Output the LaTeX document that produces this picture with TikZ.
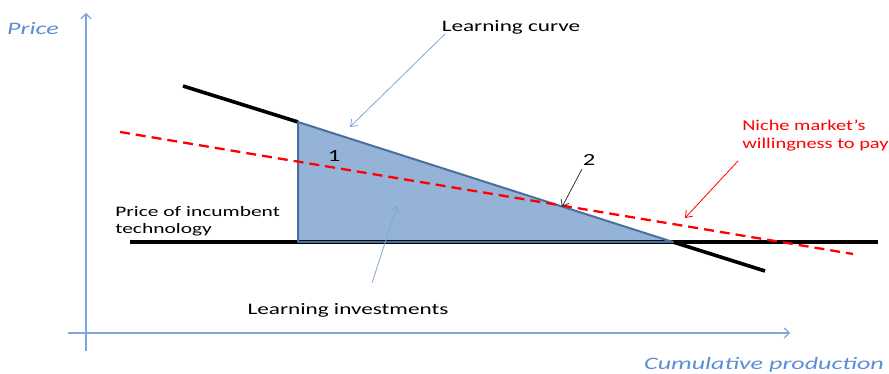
\documentclass[tikz,border=0pt]{standalone}
\usepackage{fontspec}
\setmainfont{Carlito}
\usetikzlibrary{arrows.meta}
\definecolor{axisblue}{HTML}{7FA6DA}
\definecolor{fillblue}{HTML}{95B3D7}
\definecolor{edgeblue}{HTML}{4A6E9E}
\definecolor{labblue}{HTML}{5B8ED6}
\begin{document}
\begin{tikzpicture}[x=1pt,y=-1pt,
  axis/.style={draw=axisblue,line width=1.1pt},
  thick black/.style={line width=3.6pt,black},
  wtp/.style={red,line width=2.3pt,dash pattern=on 10pt off 6pt},
  lab/.style={font=\fontsize{16}{18}\selectfont,inner sep=0pt,xscale=1.45},
  axlab/.style={inner sep=0pt,text=labblue,font=\fontsize{17.5}{19}\selectfont\itshape,xscale=1.49},
  callblue/.style={draw=axisblue,line width=0.8pt,-{Straight Barb[length=6pt,width=9pt]}},
  callred/.style={draw=red,line width=0.8pt,-{Straight Barb[length=6pt,width=9pt]}},
  callblack/.style={draw=black!80,line width=0.8pt,-{Straight Barb[length=6pt,width=9pt]}}]
\useasboundingbox (0,0) rectangle (889,374);
% axes
\coordinate (ybot) at (86,351);
\coordinate (ytop) at (86,13);
\coordinate (xl) at (68,333);
\coordinate (xr) at (790,333);
\draw[axis,-{Straight Barb[length=5pt,width=10pt]}] (ybot) -- (ytop);
\draw[axis,-{Straight Barb[length=5pt,width=10pt]}] (xl) -- (xr);
\node[axlab] (price) at (33,29) {Price};
\node[axlab] (cum) at (764,365) {Cumulative production};
% triangle
\coordinate (ta) at (298,122);
\coordinate (tb) at (298,242);
\coordinate (tc) at (673,242);
\fill[fillblue] (ta) -- (tb) -- (tc) -- cycle;
% incumbent price line
\coordinate (h1) at (130,242);
\coordinate (h2) at (878,242);
\draw[thick black] (h1) -- (h2);
% learning curve
\coordinate (c1) at (183,86);
\coordinate (c2) at (765,271);
\draw[thick black] (c1) -- (ta);
\draw[thick black] (tc) -- (c2);
\draw[edgeblue,line width=2pt,line join=round] (ta) -- (tb) -- (tc) -- cycle;
% willingness to pay
\coordinate (r1) at (120,132);
\coordinate (r2) at (853,254);
\draw[wtp] (r1) -- (r2);
% labels
\node[lab] (lc) at (511,27) {Learning curve};
\coordinate (lcend) at (350,127);
\draw[callblue] (445,34) -- (lcend);
\node[lab,font=\fontsize{17}{18}\selectfont] (one) at (334,156) {1};
\node[lab,font=\fontsize{17}{18}\selectfont] (two) at (589,160) {2};
\coordinate (twoend) at (562,207);
\draw[callblack] (582,169) -- (twoend);
\node[lab,text=red,align=left,anchor=north west,font=\fontsize{15}{18}\selectfont,xscale=1.36/1.45] (niche) at (742,120) {Niche market’s\\willingness to pay};
\coordinate (nicheend) at (685,218);
\draw[callred] (738,161) -- (nicheend);
\node[lab,align=left,anchor=north west,font=\fontsize{14.5}{17}\selectfont,xscale=1.48/1.45] (inc) at (115,206) {Price of incumbent\\technology};
\node[lab] (li) at (348,310) {Learning investments};
\coordinate (liend) at (397,206);
\draw[callblue] (372,283) -- (liend);
\end{tikzpicture}
\end{document}
